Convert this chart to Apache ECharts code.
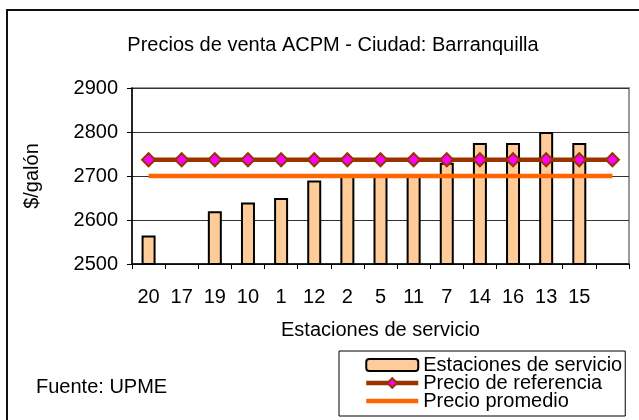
<!DOCTYPE html>
<html>
<head>
<meta charset="utf-8">
<script src="https://cdn.jsdelivr.net/npm/echarts@6/dist/echarts.min.js"></script>
<style>
  html, body { margin: 0; padding: 0; background: #fff; }
  #chart { width: 639px; height: 420px; }
</style>
</head>
<body>
<div id="chart"></div>
<script>
// estaciones de servicio (the last slot is empty in the original)
const estaciones = ['20', '17', '19', '10', '1', '12', '2', '5', '11', '7', '14', '16', '13', '15', '']
const precioVenta = [2565, null, 2620, 2640, 2650, 2690, 2700, 2700, 2700, 2730, 2775, 2775, 2800, 2775, null]
const precioReferencia = [2737, 2737, 2737, 2737, 2737, 2737, 2737, 2737, 2737, 2737, 2737, 2737, 2737, 2737, 2737]
const precioPromedio = [2700, 2700, 2700, 2700, 2700, 2700, 2700, 2700, 2700, 2700, 2700, 2700, 2700, 2700, 2700]

const font = 'Liberation Sans, Arial, sans-serif'
const chart = echarts.init(document.getElementById('chart'))

chart.setOption({
  backgroundColor: '#fff',
  textStyle: { fontFamily: font },
  title: {
    text: 'Precios de venta ACPM - Ciudad: Barranquilla',
    left: 328,
    textAlign: 'center',
    top: 30,
    textStyle: { fontFamily: font, fontSize: 20, fontWeight: 'normal', color: '#000' }
  },
  grid: {
    left: 132, top: 88, width: 497, height: 176,
    show: true, borderColor: '#999', borderWidth: 2, backgroundColor: '#fff'
  },
  legend: {
    orient: 'vertical',
    left: 339,
    top: 351,
    itemWidth: 52,
    itemHeight: 12,
    itemGap: -2,
    padding: [4, 3, 5, 25],
    borderColor: '#000',
    borderWidth: 1,
    lineStyle: { width: 4.5 },
    textStyle: { fontFamily: font, fontSize: 20, color: '#000', lineHeight: 18 },
    data: ['Estaciones de servicio', 'Precio de referencia', 'Precio promedio']
  },
  xAxis: {
    type: 'category',
    data: estaciones,
    boundaryGap: true,
    name: 'Estaciones de servicio',
    nameLocation: 'middle',
    nameGap: 56,
    nameTextStyle: { fontFamily: font, fontSize: 20, color: '#000' },
    axisLine: { lineStyle: { color: '#000', width: 1.5 } },
    axisTick: { show: true, length: 5, lineStyle: { color: '#000' } },
    axisLabel: { interval: 0, margin: 23, fontFamily: font, fontSize: 20, color: '#000' }
  },
  yAxis: {
    type: 'value',
    min: 2500,
    max: 2900,
    interval: 100,
    name: '$/galón',
    nameLocation: 'middle',
    nameGap: 90,
    nameTextStyle: { fontFamily: font, fontSize: 20, color: '#000' },
    axisLine: { show: true, lineStyle: { color: '#000', width: 1.5 } },
    axisTick: { show: true, length: 5, lineStyle: { color: '#000' } },
    axisLabel: { margin: 14, fontFamily: font, fontSize: 20, color: '#000', formatter: (v) => String(v) },
    splitLine: { lineStyle: { color: '#333', width: 1 } }
  },
  series: [
    {
      name: 'Estaciones de servicio',
      type: 'bar',
      data: precioVenta,
      barWidth: 14,
      itemStyle: { color: '#FFCC99', borderColor: '#000', borderWidth: 2 }
    },
    {
      name: 'Precio de referencia',
      type: 'line',
      data: precioReferencia,
      symbol: 'diamond',
      symbolSize: 13,
      itemStyle: { color: '#FF00FF', borderColor: '#993300', borderWidth: 2 },
      lineStyle: { color: '#993300', width: 4.5 }
    },
    {
      name: 'Precio promedio',
      type: 'line',
      data: precioPromedio,
      symbol: 'none',
      itemStyle: { color: '#FF6600', opacity: 0 },
      lineStyle: { color: '#FF6600', width: 4.5 }
    }
  ],
  graphic: [
    {
      type: 'rect',
      shape: { x: 7, y: 10, width: 700, height: 500 },
      style: { fill: null, stroke: '#111', lineWidth: 2 },
      silent: true
    },
    {
      type: 'text',
      left: 36,
      top: 377,
      style: { text: 'Fuente: UPME', font: '20px ' + font, fill: '#000' }
    }
  ]
})
</script>
</body>
</html>
